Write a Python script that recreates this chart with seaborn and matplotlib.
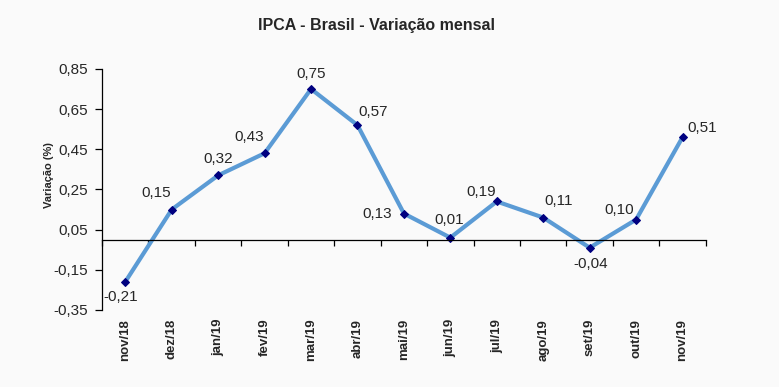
import numpy as np
import pandas as pd
import seaborn as sns
import matplotlib.pyplot as plt

meses = ["nov/18", "dez/18", "jan/19", "fev/19", "mar/19", "abr/19", "mai/19",
         "jun/19", "jul/19", "ago/19", "set/19", "out/19", "nov/19"]
variacao = [-0.21, 0.15, 0.32, 0.43, 0.75, 0.57, 0.13, 0.01, 0.19, 0.11, -0.04, 0.10, 0.51]
yticks = [-0.35, -0.15, 0.05, 0.25, 0.45, 0.65, 0.85]

# label offsets in points (dx, dy)
offsets = [(-3, -11), (-11.5, 12), (0, 11.5), (-11, 12), (0, 11), (11.5, 9.5), (-19, 0),
           (-1, 13), (-11, 6.5), (11, 12), (1, -12), (-12, 7), (14, 6.5)]

df = pd.DataFrame({"pos": np.arange(len(meses)), "var": variacao})

sns.set_style("white")
plt.rcParams["font.family"] = ["Liberation Sans", "DejaVu Sans"]

bg = "#fafafa"
fig = plt.figure(figsize=(7.79, 3.87), dpi=100, facecolor=bg)
ax = fig.add_axes([0.131, 0.199, 0.775, 0.623], facecolor=bg)

sns.lineplot(data=df, x="pos", y="var", ax=ax, color="#5b9bd5", linewidth=3,
             marker="D", markersize=4, markerfacecolor="#000080",
             markeredgecolor="#000080", sort=False)

for i, v in enumerate(variacao):
    dx, dy = offsets[i]
    ax.annotate(f"{v:.2f}".replace(".", ","), (i, v), xytext=(dx, dy),
                textcoords="offset points", ha="center", va="center", fontsize=11)

ax.set_xlim(-0.5, len(meses) - 0.5)
ax.set_ylim(-0.35, 0.85)
ax.set_yticks(yticks)
ax.set_yticklabels([f"{t:.2f}".replace(".", ",") for t in yticks], fontsize=11)

ax.spines["top"].set_visible(False)
ax.spines["right"].set_visible(False)
ax.spines["bottom"].set_position(("data", 0))
for s in ["left", "bottom"]:
    ax.spines[s].set_color("black")
    ax.spines[s].set_linewidth(0.9)

ax.set_xticks(np.arange(len(meses)))
ax.set_xticklabels(meses, rotation=90, fontsize=9.5, fontweight="bold")
ax.set_xticks(np.arange(-0.5, len(meses) + 0.5, 1), minor=True)
ax.tick_params(axis="x", which="major", length=0, pad=57, bottom=True)
ax.tick_params(axis="x", which="minor", length=4, width=0.9, direction="out",
               color="black", bottom=True)
ax.tick_params(axis="y", length=5, width=0.9, direction="out", color="black",
               pad=5, left=True)

ax.set_xlabel("")
ax.set_ylabel("Variação (%)", fontsize=8, fontweight="bold")
ax.yaxis.set_label_coords(-0.08, 0.56)

fig.text(0.483, 0.935, "IPCA - Brasil - Variação mensal", ha="center", va="center",
         fontsize=11.5, fontweight="bold")

fig.savefig("out.png", dpi=100, facecolor=bg)
